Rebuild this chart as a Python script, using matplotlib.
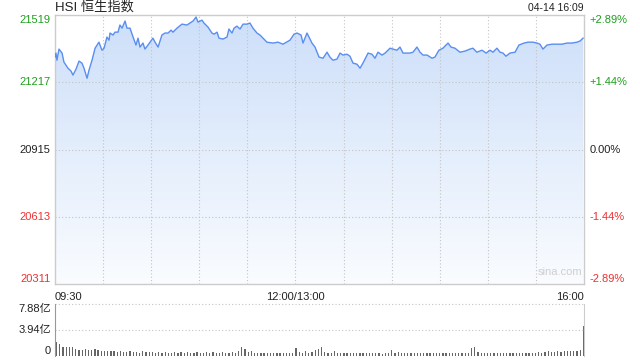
import matplotlib.pyplot as plt
import matplotlib.colors as mcolors
import numpy as np

plt.rcParams['font.family'] = ['Liberation Sans', 'Noto Sans CJK SC', 'DejaVu Sans']

# --- DATA ---
# trading minutes since 09:30 (lunch break removed), HSI value
minutes = [0, 0.6, 1.2, 2.5, 4.4, 5.6, 8.1, 10, 11.2, 13.1, 15, 16.8, 18.1, 20, 21.2, 23.1,
           25, 27.4, 29.3, 30.6, 32.4, 33.7, 34.3, 36.2, 37.4, 39.3, 40.5, 41.8, 43.7, 44.9,
           46.8, 48.7, 50.5, 51.8, 53, 54.9, 56.1, 58, 61.1, 62.4, 64.3, 66.7, 68.6, 70.5,
           72.4, 73.6, 76.1, 79.2, 82.3, 84.2, 86.1, 88, 89.2, 91.7, 92.9, 95.4, 97.9, 99.2,
           101.1, 102.3, 104.8, 107.3, 108.5, 110.4, 111.7, 113.5, 115.4, 117.3, 119.8, 121.6,
           123.5, 126, 127.9, 132.2, 136, 139.1, 142.2, 146.6, 149.1, 151, 153.5, 154.7, 157.2,
           160.3, 162.2, 164.7, 167.2, 169.7, 171.5, 173.4, 175.9, 177.8, 179.7, 182.1, 184,
           185.9, 188.4, 190.3, 192.1, 195.3, 197.7, 199.6, 201.5, 204, 205.9, 209, 210.8,
           213.3, 215.2, 217.1, 219.6, 221.4, 223.3, 225.8, 227.7, 229.6, 232.1, 235.2, 237,
           239.5, 242, 245.2, 247, 249.5, 252.6, 255.8, 258.9, 260.7, 263.2, 266.4, 268.9,
           271.4, 273.2, 275.7, 277.6, 279.5, 281.3, 283.8, 287, 289.4, 292.6, 295.1, 298.2,
           300.7, 302.5, 304.4, 306.9, 310, 313.2, 316.3, 319.4, 322.5, 325.6, 327.5, 329.4]
prices = [21330, 21348, 21316, 21366, 21348, 21307, 21280, 21267, 21249, 21276, 21312, 21303,
          21280, 21235, 21271, 21316, 21370, 21397, 21361, 21370, 21420, 21406, 21438, 21429,
          21442, 21442, 21474, 21460, 21492, 21460, 21460, 21420, 21384, 21415, 21375, 21393,
          21366, 21384, 21415, 21397, 21375, 21429, 21438, 21438, 21451, 21442, 21460, 21478,
          21474, 21483, 21492, 21510, 21487, 21496, 21483, 21465, 21438, 21433, 21442, 21415,
          21411, 21420, 21456, 21438, 21460, 21469, 21456, 21478, 21478, 21483,
          21460, 21438, 21429, 21397, 21393, 21397, 21388, 21406, 21433, 21438, 21429, 21393,
          21438, 21393, 21375, 21330, 21325, 21352, 21330, 21316, 21321, 21348, 21339, 21343,
          21334, 21303, 21298, 21280, 21303, 21348, 21343, 21325, 21352, 21339, 21348, 21370,
          21366, 21361, 21375, 21348, 21348, 21348, 21352, 21375, 21352, 21339, 21339, 21325,
          21330, 21361, 21370, 21393, 21375, 21370, 21352, 21357, 21366, 21370, 21352, 21361,
          21348, 21361, 21352, 21370, 21352, 21348, 21334, 21348, 21352, 21384, 21393, 21397,
          21397, 21393, 21388, 21366, 21384, 21388, 21388, 21388, 21393, 21393, 21397, 21402,
          21415]

# volume per 2-minute bar, in 亿
volume = [2.1, 1.8, 1.3, 1.3, 1.3, 1.4, 1.0, 0.9, 0.9, 1.0, 0.9, 0.9, 1.0, 0.9,
          0.8, 0.7, 0.8, 0.7, 0.7, 0.6, 0.8, 0.6, 0.6, 0.7, 0.6, 0.6, 0.5, 0.7, 0.6, 0.6,
          0.6, 0.5, 0.6, 0.5, 0.6, 0.5, 0.5, 0.6, 0.5, 0.6,
          0.5, 0.6, 0.5, 0.5, 0.6, 0.5, 0.5, 0.6, 0.5, 0.6, 0.5, 0.5, 0.6, 0.5, 0.5, 0.6, 0.5, 0.7,
          1.4, 1.0, 0.6, 0.8, 0.5,
          0.4, 0.5, 0.4, 0.4, 0.5, 0.4, 0.5, 0.4, 0.4, 0.5, 0.4, 0.5,
          1.25, 0.6, 0.5, 0.7, 0.5, 0.6, 0.9, 1.0, 1.3,
          0.6, 0.5, 0.5, 0.8, 0.5, 0.4, 0.5, 0.4, 0.5, 0.4, 0.5, 0.5, 0.4, 0.5, 0.4, 0.4, 0.5,
          0.4, 0.3, 0.4, 0.5, 0.95, 0.5, 0.6,
          0.5, 0.4, 0.5, 0.4, 0.4, 0.5, 0.4, 0.5, 0.4, 0.4, 0.5, 0.4, 0.4, 0.5, 0.4, 0.4, 0.5,
          0.4, 0.4, 0.5, 0.4, 0.5,
          1.2, 1.35, 0.6, 0.4,
          0.4, 0.4, 0.5, 0.4, 0.4, 0.5, 0.4, 0.5, 0.4, 0.4, 0.5, 0.4, 0.5, 0.5, 0.4, 0.5, 0.5,
          0.6, 0.5, 0.6, 0.7, 0.6, 0.6, 0.7, 0.6, 0.7, 0.7,
          0.7, 0.8, 0.7, 0.9, 4.5]

price_ticks = [21519, 21217, 20915, 20613, 20311]
pct_labels = ['+2.89%', '+1.44%', '0.00%', '-1.44%', '-2.89%']
vol_ticks = [7.88, 3.94, 0]
vol_labels = ['7.88亿', '3.94亿', '0']
time_ticks = [0, 150, 330]
time_labels = ['09:30', '12:00/13:00', '16:00']
TITLE = 'HSI 恒生指数'
STAMP = '04-14 16:09'

GREEN = '#1f9e1f'
RED = '#ee3030'
LINE = '#5a8ef0'
tick_colors = [GREEN, GREEN, '#222222', RED, RED]

W, H = 640, 360
fig = plt.figure(figsize=(6.4, 3.6), dpi=100)

def rect(x0, y0, x1, y1):
    return [x0 / W, 1 - y1 / H, (x1 - x0) / W, (y1 - y0) / H]

ax = fig.add_axes(rect(55, 15, 584, 284))
vax = fig.add_axes(rect(55, 304, 584, 356))

# --- price panel ---
ax.set_xlim(0, 330)
ax.set_ylim(price_ticks[-1], price_ticks[0])

fill = ax.fill_between(minutes, prices, price_ticks[-1], color='none', lw=0)
grad = np.linspace(0, 1, 256).reshape(-1, 1)
cmap = mcolors.LinearSegmentedColormap.from_list('g', ['#cddff9', '#fafcff'])
img = ax.imshow(grad, cmap=cmap, aspect='auto', origin='upper',
                extent=[0, 330, price_ticks[-1], max(prices)], zorder=1)
img.set_clip_path(fill.get_paths()[0], transform=ax.transData)
ax.plot(minutes, prices, color=LINE, lw=1.0, zorder=3)

for v in price_ticks[1:-1]:
    ax.axhline(v, color='#c4c4c4', ls=(0, (1, 2)), lw=0.8, zorder=2)
for m in range(30, 330, 30):
    ax.axvline(m, color='#c4c4c4', ls=(0, (1, 2)), lw=0.8, zorder=2)

ax.set_xticks([])
ax.set_yticks([])
for s in ax.spines.values():
    s.set_color('#cccccc')
    s.set_linewidth(1)

ytr = ax.get_yaxis_transform()
for i, (v, pl) in enumerate(zip(price_ticks, pct_labels)):
    va = 'top' if i == 0 else ('bottom' if i == len(price_ticks) - 1 else 'center')
    ax.text(-0.008, v, str(v), transform=ytr, ha='right', va=va,
            fontsize=8, color=tick_colors[i])
    ax.text(1.011, v, pl, transform=ytr, ha='left', va=va,
            fontsize=8, color=tick_colors[i])

xtr = ax.get_xaxis_transform()
for m, lab, ha in zip(time_ticks, time_labels, ['left', 'center', 'right']):
    ax.text(m, -0.03, lab, transform=xtr, ha=ha, va='top', fontsize=8, color='#222222')

ax.text(0, 1.006, TITLE, transform=ax.transAxes, ha='left', va='bottom',
        fontsize=9.5, color='#222222')
ax.text(1, 1.006, STAMP, transform=ax.transAxes, ha='right', va='bottom',
        fontsize=7.5, color='#222222')
ax.text(0.955, 0.025, 'sina.com', transform=ax.transAxes, ha='center', va='bottom',
        fontsize=8, color='#cfcfcf', zorder=4)

# --- volume panel ---
vol_x = np.linspace(1, 329.6, len(volume))
vax.bar(vol_x, volume, width=0.8, color='#666666', lw=0)
vax.set_xlim(0, 330)
vax.set_ylim(0, vol_ticks[0])
for v in vol_ticks[:-1]:
    vax.axhline(v, color='#c4c4c4', ls=(0, (1, 2)), lw=0.8, clip_on=False)
vax.set_xticks([])
vax.set_yticks([])
vax.spines['top'].set_visible(False)
vax.spines['bottom'].set_visible(False)
vax.spines['left'].set_color('#999999')
vax.spines['right'].set_color('#cccccc')

vtr = vax.get_yaxis_transform()
for v, lab, va in zip(vol_ticks, vol_labels, ['top', 'center', 'bottom']):
    vax.text(-0.008, v, lab, transform=vtr, ha='right', va=va, fontsize=8, color='#222222')

fig.savefig('out.png', dpi=100)
